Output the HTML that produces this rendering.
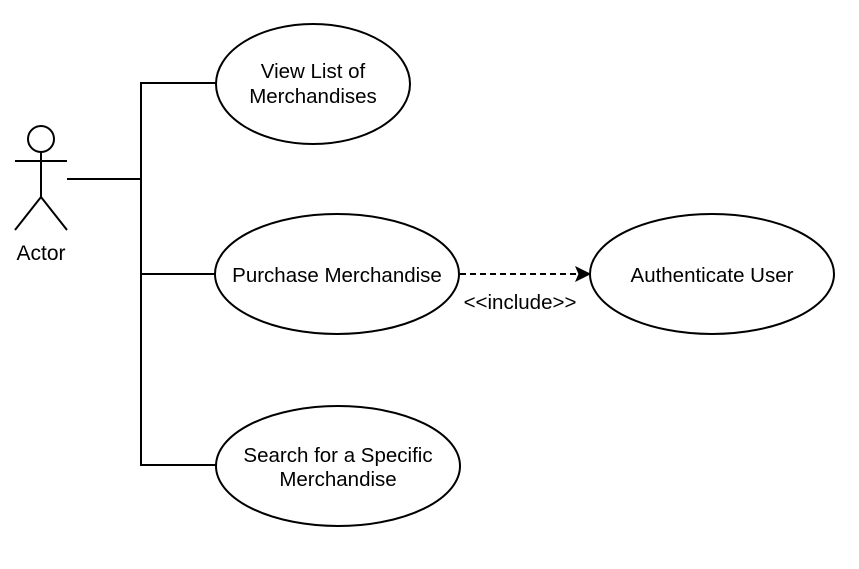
<!DOCTYPE html>
<html><head><style>body{margin:0;background:#fff}svg{display:block}</style></head><body>
<svg width="859" height="569" xmlns="http://www.w3.org/2000/svg" font-family="Liberation Sans, sans-serif" font-size="20.5">
<rect width="859" height="569" fill="#fff"/>
<g stroke="#000" stroke-width="2" fill="none">
<circle cx="41" cy="139" r="13"/>
<line x1="41" y1="152" x2="41" y2="197"/>
<line x1="15" y1="161" x2="67" y2="161"/>
<line x1="41" y1="197" x2="15" y2="230"/>
<line x1="41" y1="197" x2="67" y2="230"/>
<polyline points="67,179 141,179"/>
<polyline points="216,83 141,83 141,465 216,465"/>
<line x1="141" y1="274" x2="216" y2="274"/>
<ellipse cx="313" cy="84" rx="97" ry="60" fill="#fff"/>
<ellipse cx="337" cy="274" rx="122" ry="60" fill="#fff"/>
<ellipse cx="712" cy="274" rx="122" ry="60" fill="#fff"/>
<ellipse cx="338" cy="466" rx="122" ry="60" fill="#fff"/>
<line x1="460" y1="274" x2="580" y2="274" stroke-dasharray="6,4"/>
</g>
<path d="M590,274 L576,267 L579,274 L576,281 Z" fill="#000" stroke="#000"/>
<g text-anchor="middle" fill="#000">
<text x="41" y="260" font-size="21">Actor</text>
<text x="313" y="78">View List of</text>
<text x="313" y="103">Merchandises</text>
<text x="337" y="282">Purchase Merchandise</text>
<text x="712" y="282">Authenticate User</text>
<text x="338" y="462">Search for a Specific</text>
<text x="338" y="486">Merchandise</text>
<text x="520" y="309" font-size="20.5">&lt;&lt;include&gt;&gt;</text>
</g>
</svg>
</body></html>
